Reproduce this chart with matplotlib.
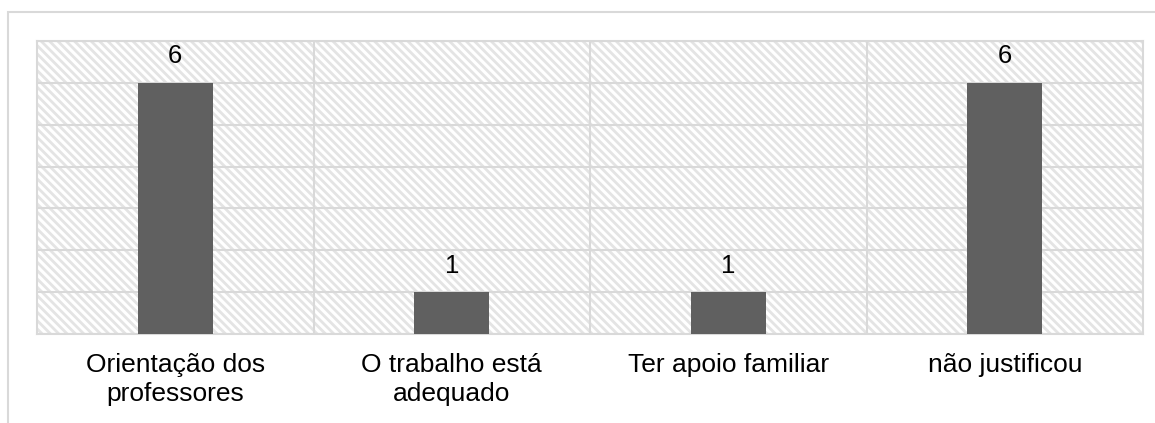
import matplotlib
matplotlib.use('Agg')
import matplotlib.pyplot as plt
from matplotlib.patches import Rectangle
import numpy as np

plt.rcParams['font.family'] = ['Liberation Sans', 'DejaVu Sans']
plt.rcParams['hatch.linewidth'] = 2.0
plt.rcParams['hatch.color'] = '#e4e4e4'

categories = ['Orientação dos\nprofessores', 'O trabalho está\nadequado',
              'Ter apoio familiar', 'não justificou']
values = [6, 1, 1, 6]

fig = plt.figure(figsize=(11.55, 4.23), dpi=100)
ax = fig.add_axes([37 / 1155, 1 - 334 / 423, (1143 - 37) / 1155, (334 - 41) / 423])

# hatched plot background
ax.add_patch(Rectangle((0, 0), 1, 1, transform=ax.transAxes, facecolor='white',
                       edgecolor='#e4e4e4', hatch='\\' * 4, linewidth=0, zorder=0))

x = np.arange(len(categories))
bars = ax.bar(x, values, width=0.27, color='#606060', zorder=3)

for b, v in zip(bars, values):
    ax.annotate(str(v), (b.get_x() + b.get_width() / 2, v), xytext=(0, 19),
                textcoords='offset points', ha='center', va='center',
                fontsize=18.5, color='black', zorder=4)

ax.set_xlim(-0.5, len(categories) - 0.5)
ax.set_ylim(0, 7)
ax.set_yticks(range(0, 8))
ax.yaxis.grid(True, color='#d9d9d9', linewidth=1.5, zorder=1)
for xb in np.arange(0.5, len(categories) - 0.5, 1):
    ax.axvline(xb, color='#d9d9d9', linewidth=1.5, zorder=1)
ax.set_axisbelow(True)

ax.set_xticks(x)
ax.set_xticklabels(categories, fontsize=19, linespacing=1.22)
ax.tick_params(axis='x', length=0, pad=14)
ax.tick_params(axis='y', length=0, labelleft=False)
for s in ax.spines.values():
    s.set_color('#d9d9d9')
    s.set_linewidth(1.5)

# outer chart frame
fig.patches.append(Rectangle((8 / 1155, -0.1), 1.1, 1.1 - 12 / 423,
                             transform=fig.transFigure, fill=False,
                             edgecolor='#d9d9d9', linewidth=1.5))

fig.savefig('out.png', dpi=100)
